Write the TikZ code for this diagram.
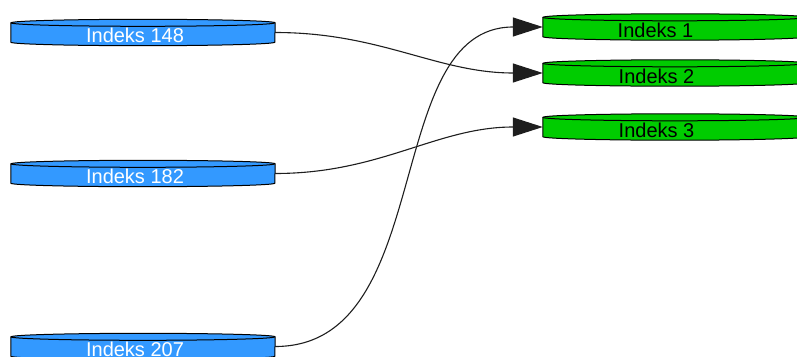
\documentclass[tikz,border=0pt]{standalone}
\usepackage{fontspec}
\setmainfont{Liberation Sans}
\usetikzlibrary{arrows.meta}

\definecolor{diskblue}{RGB}{51,153,255}
\definecolor{diskgreen}{RGB}{0,204,0}
\definecolor{wire}{RGB}{30,30,30}

\tikzset{
  diskbody/.style={rectangle, inner sep=0pt, minimum width=264pt, minimum height=19pt},
  diskline/.style={draw=black, line width=1pt},
  disklabel/.style={inner sep=0pt, font=\fontsize{20}{24}\selectfont},
  edge/.style={draw=wire, line width=1.1pt, -{Triangle[length=30pt,width=19pt]}},
}

% flat cylinder drawn around a body node: #1 name, #2 fill colour
\newcommand\diskshape[2]{%
  \draw[diskline, fill=#2] (#1.north west) -- (#1.south west)
    arc[start angle=180, end angle=360, x radius=132pt, y radius=3.5pt]
    -- (#1.north east)
    arc[start angle=0, end angle=180, x radius=132pt, y radius=3.5pt] -- cycle;
  \draw[diskline] (#1.north west)
    arc[start angle=180, end angle=360, x radius=132pt, y radius=3.5pt];
}

\begin{document}
\begin{tikzpicture}[x=1pt, y=1pt]
\useasboundingbox (0,0) rectangle (797,-356);

% source disks
\node[diskbody] (b148) at (143,-32.5) {};
\node[diskbody] (b182) at (143,-173.5) {};
\node[diskbody] (b207) at (143,-346.5) {};
% target disks
\node[diskbody] (g1) at (675,-27) {};
\node[diskbody] (g2) at (675,-73) {};
\node[diskbody] (g3) at (675,-127) {};

\diskshape{b148}{diskblue}
\diskshape{b182}{diskblue}
\diskshape{b207}{diskblue}
\diskshape{g1}{diskgreen}
\diskshape{g2}{diskgreen}
\diskshape{g3}{diskgreen}

\node[disklabel, text=white] (t148) at ([xshift=-8pt, yshift=-2.5pt]b148.center) {Indeks 148};
\node[disklabel, text=white] (t182) at ([xshift=-8pt, yshift=-2.5pt]b182.center) {Indeks 182};
\node[disklabel, text=white] (t207) at ([xshift=-8pt, yshift=-2.5pt]b207.center) {Indeks 207};
\node[disklabel, text=black] (t1) at ([xshift=-19.5pt, yshift=-3pt]g1.center) {Indeks 1};
\node[disklabel, text=black] (t2) at ([xshift=-18.5pt, yshift=-3.5pt]g2.center) {Indeks 2};
\node[disklabel, text=black] (t3) at ([xshift=-18.5pt, yshift=-3pt]g3.center) {Indeks 3};

% connectors
\draw[edge] (b148.east) to[out=0, in=180] (g2.west);
\draw[edge] (b182.east) to[out=0, in=180] (g3.west);
\draw[edge] (b207.east) to[out=0, in=180] (g1.west);
\end{tikzpicture}
\end{document}
